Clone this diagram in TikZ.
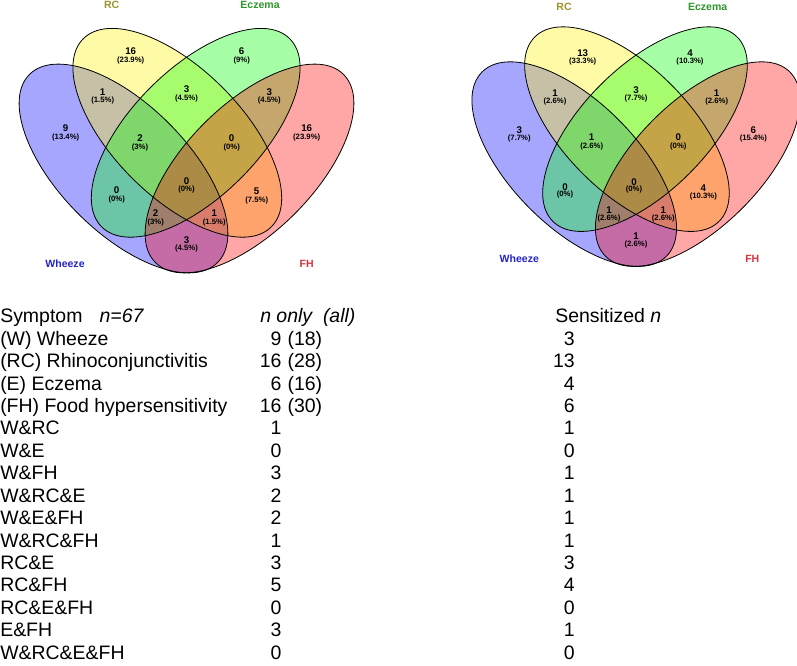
\documentclass[tikz,border=0pt]{standalone}
\usepackage{fontspec}
\setmainfont{Liberation Sans}
\usepackage{xcolor}
\usetikzlibrary{positioning}

\definecolor{wheezecol}{RGB}{35,35,200}
\definecolor{rccol}{RGB}{155,148,45}
\definecolor{eczemacol}{RGB}{45,150,45}
\definecolor{fhcol}{RGB}{215,50,60}

\begin{document}
\begin{tikzpicture}[x=0.75pt,y=-0.75pt]
        \tikzset{venn/.style = {fill opacity=0.35},
                 rim/.style = {draw=black, line width=0.6pt},
                 cnt/.style = {inner sep=0pt, font=\fontsize{7.3}{8}\selectfont\bfseries},
                 pct/.style = {inner sep=0pt, font=\fontsize{5.8}{6}\selectfont\bfseries},
                 cat/.style = {inner sep=0pt, font=\fontsize{7.9}{9}\selectfont\bfseries},
                 row/.style = {inner sep=0pt, anchor=base west, font=\fontsize{14.6}{17}\selectfont},
                 num/.style = {inner sep=0pt, anchor=base east, font=\fontsize{14.6}{17}\selectfont}}
        \useasboundingbox (0,0) rectangle (797,666);
        % the two venn diagrams (all children, sensitized children)
        \foreach \sx/\sy/\s in {0/0/1, 453.2/-1/0.98}
        {
        \begin{scope}[shift={(\sx,\sy)}, scale=\s]
            \fill[venn, blue, shift={(123.5,168.5)}, rotate=-45] (0,0) ellipse [x radius=133, y radius=64];
            \fill[venn, yellow, shift={(177.3,132.8)}, rotate=-45] (0,0) ellipse [x radius=133, y radius=64];
            \fill[venn, green, shift={(195.7,132.8)}, rotate=45] (0,0) ellipse [x radius=133, y radius=64];
            \fill[venn, red, shift={(249.5,168.5)}, rotate=45] (0,0) ellipse [x radius=133, y radius=64];
            \draw[rim, shift={(123.5,168.5)}, rotate=-45] (0,0) ellipse [x radius=133, y radius=64];
            \draw[rim, shift={(177.3,132.8)}, rotate=-45] (0,0) ellipse [x radius=133, y radius=64];
            \draw[rim, shift={(195.7,132.8)}, rotate=45] (0,0) ellipse [x radius=133, y radius=64];
            \draw[rim, shift={(249.5,168.5)}, rotate=45] (0,0) ellipse [x radius=133, y radius=64];
        \end{scope}
        }
        % set names
        \node[cat, text=rccol] (Lrc) at (111.7,4.5) {RC};
        \node[cat, text=eczemacol] (Lecz) at (260,4.5) {Eczema};
        \node[cat, text=wheezecol] (Lwhz) at (65,264) {Wheeze};
        \node[cat, text=fhcol] (Lfh) at (306.7,264) {FH};
        \node[cat, text=rccol] (Rrc) at (564,7.3) {RC};
        \node[cat, text=eczemacol] (Recz) at (707.7,7.3) {Eczema};
        \node[cat, text=wheezecol] (Rwhz) at (519.3,259) {Wheeze};
        \node[cat, text=fhcol] (Rfh) at (752.3,259) {FH};
        % region counts, left
        \foreach \nm/\x/\y/\yp/\n/\p in {w/65.7/128/138/9/13.4, r/130.7/50.7/60.7/16/23.9,
                e/241.7/50.7/60.7/6/9, f/306.7/128/138/16/23.9, wr/102.7/91.7/101/1/1.5,
                re/186.5/89/99/3/4.5, ef/269.3/91.7/101/3/4.5, wre/140/138.3/147.7/2/3,
                ref/231.7/138.3/147.7/0/0, we/116.7/190/199.3/0/0, wref/186.5/181/190/0/0,
                rf/256.7/191.7/201/5/7.5, wef/155.7/213.3/222.3/2/3, wrf/214.3/213.3/222.3/1/1.5,
                wf/186.5/240/249/3/4.5}
        {
            \node[cnt] (L\nm) at (\x,\y) {\n};
            \node[pct] (L\nm p) at (\x,\yp) {(\p\%)};
        }
        % region counts, right
        \foreach \nm/\x/\y/\yp/\n/\p in {w/519.3/130.3/138.3/3/7.7, r/582.7/53/61.7/13/33.3,
                e/690/53/61.7/4/10.3, f/753.3/130.3/138.3/6/15.4, wr/555/93.5/101.5/1/2.6,
                re/636/89.7/99/3/7.7, ef/716.7/93.5/101.5/1/2.6, wre/591.7/137.5/146.7/1/2.6,
                ref/678.3/137.5/146.7/0/0, we/565/187/195/0/0, wref/634/181.7/189.3/0/0,
                rf/703.3/188.5/196.7/4/10.3, wef/609/210/219/1/2.6, wrf/663.3/210/219/1/2.6,
                wf/636/236.3/245/1/2.6}
        {
            \node[cnt] (R\nm) at (\x,\y) {\n};
            \node[pct] (R\nm p) at (\x,\yp) {(\p\%)};
        }
        % table
        \node[row] (symhead) at (0,322.7) {Symptom};
        \node[row] (nhead) at (99.3,322.7) {\textit{n=67}};
        \node[row] (onlyhead) at (260,322.7) {\textit{n only\ \ (all)}};
        \node[row] (senshead) at (555,322.7) {Sensitized \textit{n}};
        \foreach \i/\sym/\n/\s in {1/(W) Wheeze/9/3, 2/(RC) Rhinoconjunctivitis/16/13,
                3/(E) Eczema/6/4, 4/(FH) Food hypersensitivity/16/6, 5/W\&RC/1/1,
                6/W\&E/0/0, 7/W\&FH/3/1, 8/W\&RC\&E/2/1, 9/W\&E\&FH/2/1,
                10/W\&RC\&FH/1/1, 11/RC\&E/3/3, 12/RC\&FH/5/4, 13/RC\&E\&FH/0/0,
                14/E\&FH/3/1, 15/W\&RC\&E\&FH/0/0}
        {
            \node[row] (sym\i) at (0,322.7+22.44*\i) {\sym};
            \node[num] (only\i) at (281.7,322.7+22.44*\i) {\n};
            \node[num] (sens\i) at (575,322.7+22.44*\i) {\s};
        }
        \foreach \i/\a in {1/18, 2/28, 3/16, 4/30}
            \node[row] (all\i) at (287.3,322.7+22.44*\i) {(\a)};
\end{tikzpicture}
\end{document}
